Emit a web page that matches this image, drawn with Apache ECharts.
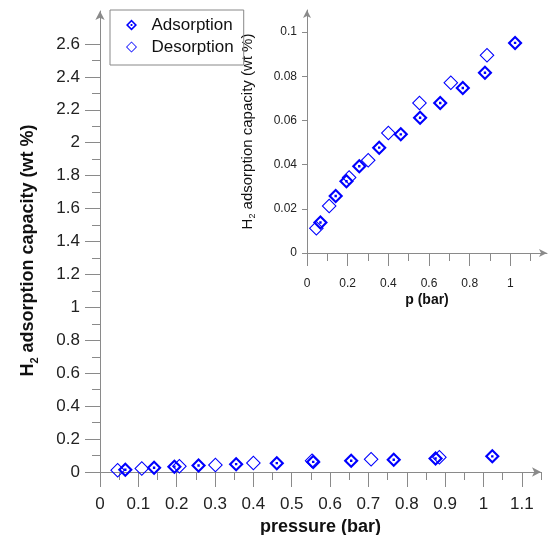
<!DOCTYPE html>
<html>
<head>
<meta charset="utf-8">
<script src="https://cdn.jsdelivr.net/npm/echarts@6/dist/echarts.min.js"></script>
<style>
  html, body { margin: 0; padding: 0; background: #fff; }
  #chart { width: 551px; height: 535px; }
</style>
</head>
<body>
<div id="chart"></div>
<script>
// adsorption / desorption points, [pressure (bar), capacity (wt %)]
const adsorption = [
  [0.066, 0.0138], [0.141, 0.0258], [0.194, 0.0325], [0.257, 0.0393],
  [0.355, 0.0477], [0.461, 0.0537], [0.556, 0.0612], [0.655, 0.0679],
  [0.766, 0.0747], [0.875, 0.0816], [1.023, 0.0951]
];
const desorption = [
  [0.046, 0.0112], [0.109, 0.0213], [0.207, 0.0342], [0.301, 0.0420],
  [0.400, 0.0543], [0.553, 0.0679], [0.707, 0.0771], [0.885, 0.0895]
];

// tick positions
const mainXMajor = [0, 0.1, 0.2, 0.3, 0.4, 0.5, 0.6, 0.7, 0.8, 0.9, 1, 1.1];
const mainXMinor = [0.05, 0.15, 0.25, 0.35, 0.45, 0.55, 0.65, 0.75, 0.85, 0.95, 1.05, 1.15];
const mainYMajor = [0, 0.2, 0.4, 0.6, 0.8, 1, 1.2, 1.4, 1.6, 1.8, 2, 2.2, 2.4, 2.6];
const mainYMinor = [0.1, 0.3, 0.5, 0.7, 0.9, 1.1, 1.3, 1.5, 1.7, 1.9, 2.1, 2.3, 2.5];
const insetXMajor = [0, 0.2, 0.4, 0.6, 0.8, 1];
const insetXMinor = [0.1, 0.3, 0.5, 0.7, 0.9, 1.1];
const insetYMajor = [0, 0.02, 0.04, 0.06, 0.08, 0.1];

const blue = '#0000ff';
const axisGray = '#8a8a8a';
const font = 'Liberation Sans, Arial, sans-serif';

// thick diamond with a dot in the middle (adsorption marker)
const dotDiamond = 'path://M50 0L100 50L50 100L0 50Z M50 20L20 50L50 80L80 50Z M42 42L58 42L58 58L42 58Z';
const openDiamond = 'path://M50 0L100 50L50 100L0 50Z M50 10L10 50L50 90L90 50Z';

const chart = echarts.init(document.getElementById('chart'));

// second axis on the same grid, only used for the short (minor) ticks
function minorAxis(grid, values, len, extra) {
  return Object.assign({
    type: 'value', gridIndex: grid,
    axisLine: {show: false},
    axisLabel: {show: false},
    splitLine: {show: false},
    axisTick: {show: true, customValues: values, length: len, lineStyle: {color: axisGray}}
  }, extra);
}

const option = {
  animation: false,
  backgroundColor: '#fff',
  textStyle: {fontFamily: font},
  legend: {
    orient: 'vertical',
    left: 110, top: 10,
    padding: [5, 10, 8, 16],
    borderColor: '#888', borderWidth: 1,
    itemWidth: 22, itemHeight: 11, itemGap: 2,
    textStyle: {fontSize: 17, color: '#111', fontFamily: font, padding: [0, 0, 0, 4], lineHeight: 20},
    data: [
      {name: 'Adsorption', icon: dotDiamond},
      {name: 'Desorption', icon: openDiamond}
    ]
  },
  grid: [
    {left: 100, right: 10, top: 11, bottom: 63, outerBoundsMode: 'none'},
    {left: 307, right: 4, top: 10, bottom: 282, outerBoundsMode: 'none'}
  ],
  xAxis: [
    {
      type: 'value', gridIndex: 0, min: 0, max: 1.15,
      name: 'pressure (bar)', nameLocation: 'middle', nameGap: 37,
      nameTextStyle: {fontSize: 18, fontWeight: 'bold', color: '#111'},
      axisLine: {lineStyle: {color: axisGray}, symbol: ['none', 'arrow'], symbolSize: [7, 9]},
      axisTick: {customValues: mainXMajor, length: 15, lineStyle: {color: axisGray}},
      axisLabel: {customValues: mainXMajor, margin: 24, fontSize: 17, color: '#222'},
      splitLine: {show: false}
    },
    minorAxis(0, mainXMinor, 8, {position: 'bottom', min: 0, max: 1.15}),
    {
      type: 'value', gridIndex: 1, min: 0, max: 1.18,
      name: 'p (bar)', nameLocation: 'middle', nameGap: 40,
      nameTextStyle: {fontSize: 14, fontWeight: 'bold', color: '#111'},
      axisLine: {lineStyle: {color: axisGray}, symbol: ['none', 'arrow'], symbolSize: [6, 8]},
      axisTick: {customValues: insetXMajor, length: 13, lineStyle: {color: axisGray}},
      axisLabel: {customValues: insetXMajor, margin: 25, fontSize: 12, color: '#222'},
      splitLine: {show: false}
    },
    minorAxis(1, insetXMinor, 8, {position: 'bottom', min: 0, max: 1.18})
  ],
  yAxis: [
    {
      type: 'value', gridIndex: 0, min: 0, max: 2.8,
      name: '{b|H}{s|2}{b| adsorption capacity (wt %)}',
      nameLocation: 'middle', nameGap: 60,
      nameTextStyle: {
        padding: [0, 18, 0, 0],
        rich: {
          b: {fontSize: 18, fontWeight: 'bold', color: '#111', lineHeight: 24, fontFamily: font},
          s: {fontSize: 11, fontWeight: 'bold', color: '#111', lineHeight: 13, verticalAlign: 'bottom', fontFamily: font}
        }
      },
      axisLine: {lineStyle: {color: axisGray}, symbol: ['none', 'arrow'], symbolSize: [7, 9]},
      axisTick: {customValues: mainYMajor, length: 15, lineStyle: {color: axisGray}},
      axisLabel: {customValues: mainYMajor, margin: 20, fontSize: 17, color: '#222'},
      splitLine: {show: false}
    },
    minorAxis(0, mainYMinor, 8, {position: 'left', min: 0, max: 2.8}),
    {
      type: 'value', gridIndex: 1, min: 0, max: 0.11,
      name: '{b|H}{s|2}{b| adsorption capacity (wt %)}',
      nameLocation: 'middle', nameGap: 50,
      nameTextStyle: {
        rich: {
          b: {fontSize: 15, color: '#111', lineHeight: 18, fontFamily: font},
          s: {fontSize: 9, color: '#111', lineHeight: 10, verticalAlign: 'bottom', fontFamily: font}
        }
      },
      axisLine: {lineStyle: {color: axisGray}, symbol: ['none', 'arrow'], symbolSize: [6, 8]},
      axisTick: {customValues: insetYMajor, length: 5, lineStyle: {color: axisGray}},
      axisLabel: {customValues: insetYMajor, margin: 10, fontSize: 12, color: '#222'},
      splitLine: {show: false}
    }
  ],
  series: [
    {
      name: 'Adsorption', type: 'scatter', xAxisIndex: 0, yAxisIndex: 0,
      symbol: dotDiamond, symbolSize: 15,
      itemStyle: {color: blue, opacity: 1},
      data: adsorption
    },
    {
      name: 'Desorption', type: 'scatter', xAxisIndex: 0, yAxisIndex: 0,
      symbol: openDiamond, symbolSize: 15,
      itemStyle: {color: blue, opacity: 1},
      data: desorption
    },
    {
      name: 'Adsorption', type: 'scatter', xAxisIndex: 2, yAxisIndex: 2,
      symbol: dotDiamond, symbolSize: 15,
      itemStyle: {color: blue, opacity: 1},
      data: adsorption
    },
    {
      name: 'Desorption', type: 'scatter', xAxisIndex: 2, yAxisIndex: 2,
      symbol: openDiamond, symbolSize: 15,
      itemStyle: {color: blue, opacity: 1},
      data: desorption
    }
  ]
};

chart.setOption(option);
</script>
</body>
</html>
